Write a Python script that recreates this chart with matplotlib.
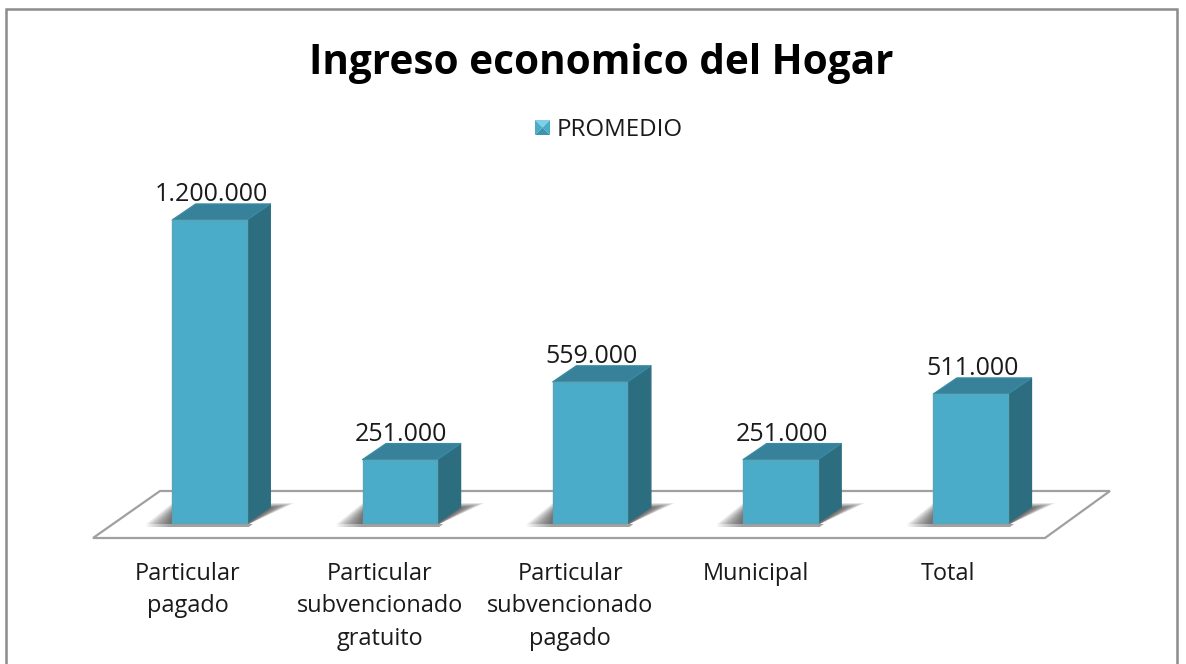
import numpy as np
import matplotlib
matplotlib.use('Agg')
import matplotlib.pyplot as plt
from matplotlib.patches import Polygon

categories = ['Particular\npagado', 'Particular\nsubvencionado\ngratuito',
              'Particular\nsubvencionado\npagado', 'Municipal', 'Total']
promedio = [1200000, 251000, 559000, 251000, 511000]
value_labels = ['1.200.000', '251.000', '559.000', '251.000', '511.000']
label_shift = [-21.5, -20, -20, -24.5, -22.5]   # px, category labels sit left of the bars

W, H = 1186, 664
PX = 1 / 190.3          # one pixel in x data units
PY = 1200000 / 303.0    # one pixel in y data units
X0, Y0 = 209.5, 523     # pixel position of first bar centre / floor

plt.rcParams['font.family'] = ['Open Sans', 'DejaVu Sans']
fig = plt.figure(figsize=(W / 100, H / 100), dpi=100)
ax = fig.add_axes([0, 0, 1, 1])
ax.set_xlim(-X0 * PX, (W - X0) * PX)
ax.set_ylim(-(H - Y0) * PY, Y0 * PY)
ax.axis('off')


def p(x, y):
    # screen pixel to data coords, for decoration only
    return ((x - X0) * PX, (Y0 - y) * PY)


def poly(pts, **kw):
    ax.add_patch(Polygon([p(*q) for q in pts], closed=True, **kw))


# outer frame
poly([(6, 9), (1177, 9), (1177, 675), (6, 675)], fc='white', ec='#8c8c8c', lw=1.8, zorder=0)

# floor
poly([(93, 538), (1045, 538), (1110, 491), (160, 491)], fc='white', ec='#a0a0a0', lw=1.6, zorder=1)

bar_w = 74.5 * PX
dx, dy = 23.5 * PX, 16 * PY
xs = np.arange(len(promedio))

for x, v, lab in zip(xs, promedio, value_labels):
    l, r = x - bar_w / 2, x + bar_w / 2
    # soft shadow on the floor, stacked shrinking layers
    n = 14
    for k in range(n):
        t = k / n
        ax.add_patch(Polygon([(l - 26 * PX * (1 - t), -1 * PY), (r + 2 * PX, -1 * PY),
                              (r + dx + 24 * PX * (1 - t), (20 - 5 * t) * PY),
                              (l, (20 - 12 * t) * PY)],
                             closed=True, fc='#303030', ec='none', alpha=0.075, zorder=2))
        # grey band under the front face, fading to the left
        ax.add_patch(Polygon([(l - 26 * PX * (1 - t), -4 * PY), (r + 2 * PX, -4 * PY),
                              (r + 6 * PX, -1 * PY), (l - 26 * PX * (1 - t), -1 * PY)],
                             closed=True, fc='#303030', ec='none', alpha=0.04, zorder=2))
    # side, top, front
    ax.add_patch(Polygon([(r, 0), (r + dx, dy), (r + dx, v + dy), (r, v)], closed=True,
                         fc='#2d6d80', ec='#2d6d80', lw=1.0, joinstyle='round', zorder=3))
    ax.add_patch(Polygon([(l, v), (r, v), (r + dx, v + dy), (l + dx, v + dy)], closed=True,
                         fc='#37829a', ec='#3a8aa3', lw=1.0, joinstyle='round', zorder=3))
    ax.bar(x, v, width=bar_w, color='#4aacc9', edgecolor='#5aa5b8', linewidth=1,
           joinstyle='round', zorder=4)
    ax.text(x + 1.5 * PX, v + 19 * PY, lab, ha='center', va='baseline', fontsize=18,
            color='#1a1a1a', zorder=5)

# category labels
for x, c, s in zip(xs, categories, label_shift):
    ax.text(x + s * PX, p(0, 562)[1], c, ha='center', va='top', fontsize=16.9, linespacing=1.46,
            color='#1a1a1a', zorder=5)

ax.text(*p(601, 74), 'Ingreso economico del Hogar', ha='center', va='baseline', fontsize=29.2,
        fontweight='bold', color='black', zorder=5)

# legend
mx0, my0, mx1, my1 = 535, 120, 550, 135
mc = ((mx0 + mx1) / 2, (my0 + my1) / 2)
poly([(mx0, my0), (mx1, my0), mc], fc='#7fd0e6', ec='none', zorder=5)
poly([(mx1, my0), (mx1, my1), mc], fc='#4aacc9', ec='none', zorder=5)
poly([(mx0, my1), (mx1, my1), mc], fc='#3d95ad', ec='none', zorder=5)
poly([(mx0, my0), (mx0, my1), mc], fc='#4aacc9', ec='none', zorder=5)
ax.text(*p(557, 136), 'PROMEDIO', ha='left', va='baseline', fontsize=17.3, color='#1a1a1a', zorder=5)

fig.savefig('out.png', dpi=100)
